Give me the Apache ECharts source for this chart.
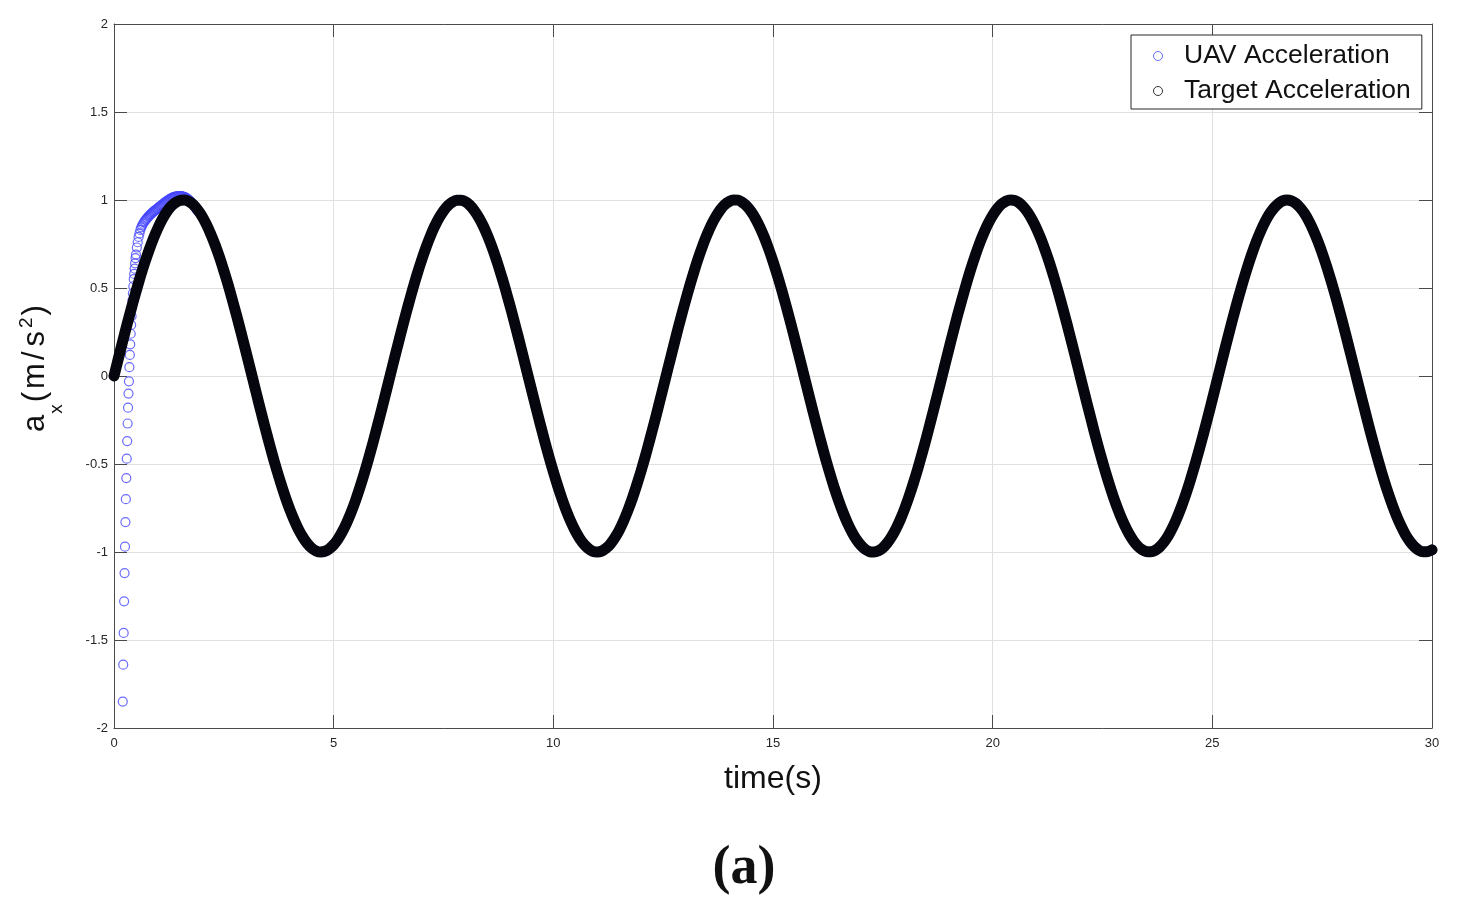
<!DOCTYPE html>
<html><head><meta charset="utf-8">
<script src="https://cdn.jsdelivr.net/npm/echarts@6/dist/echarts.min.js"></script>
<style>html,body{margin:0;padding:0;background:#fff}#chart{width:1457px;height:919px}</style>
</head><body><div id="chart"></div>
<script>
// ---- data ----
const seriesNames = ['UAV Acceleration', 'Target Acceleration'];
const xTickStep = 5;
const yTickStep = 0.5;

// target acceleration, sampled every 0.1 s from t = 0 to 30 s
const targetStart = 0;
const targetStep = 0.1;
const targetAccel = [
 0.000,0.100,0.199,0.296,0.389,0.479,0.565,0.644,0.717,0.783,
 0.841,0.891,0.932,0.964,0.985,0.997,1.000,0.992,0.974,0.946,
 0.909,0.863,0.808,0.746,0.676,0.598,0.516,0.427,0.335,0.239,
 0.141,0.042,-0.058,-0.158,-0.256,-0.351,-0.443,-0.530,-0.612,-0.688,
 -0.757,-0.818,-0.872,-0.916,-0.952,-0.978,-0.994,-1.000,-0.996,-0.982,
 -0.959,-0.926,-0.883,-0.832,-0.773,-0.706,-0.631,-0.551,-0.465,-0.374,
 -0.279,-0.182,-0.083,
 0.017,0.117,0.215,0.312,0.405,0.494,0.579,0.657,0.729,0.794,
 0.851,0.899,0.938,0.968,0.988,0.999,0.999,0.990,0.970,0.941,
 0.902,0.855,0.799,0.735,0.663,0.585,0.501,0.412,0.319,0.223,
 0.125,0.025,-0.075,-0.174,-0.272,-0.367,-0.458,-0.544,-0.625,-0.700,
 -0.768,-0.828,-0.880,-0.923,-0.957,-0.981,-0.996,-1.000,-0.995,-0.979,
 -0.954,-0.919,-0.876,-0.823,-0.762,-0.694,-0.618,-0.537,-0.450,-0.358,
 -0.263,-0.166,-0.066,
 0.034,0.133,0.232,0.328,0.420,0.509,0.592,0.670,0.741,0.804,
 0.860,0.906,0.944,0.973,0.991,1.000,0.999,0.987,0.966,0.935,
 0.895,0.846,0.789,0.723,0.651,0.572,0.487,0.397,0.303,0.207,
 0.108,0.008,-0.092,-0.191,-0.288,-0.382,-0.473,-0.558,-0.639,-0.712,
 -0.779,-0.838,-0.888,-0.930,-0.962,-0.985,-0.998,-1.000,-0.993,-0.976,
 -0.949,-0.913,-0.868,-0.814,-0.752,-0.682,-0.605,-0.523,-0.435,-0.343,
 -0.247,-0.149,-0.050,
 0.050,0.150,0.248,0.344,0.435,0.523,0.606,0.682,0.752,0.814,
 0.868,0.913,0.949,0.976,0.993,1.000,0.997,0.984,0.961,0.929,
 0.887,0.837,0.778,0.711,0.638,0.557,0.472,0.381,0.287,0.190,
 0.091,-0.009,-0.109,-0.207,-0.304,-0.398,-0.487,-0.572,-0.651,-0.724,
 -0.789,-0.846,-0.895,-0.935,-0.966,-0.987,-0.998,-0.999,-0.991,-0.972,
 -0.943,-0.906,-0.859,-0.803,-0.740,-0.669,-0.591,-0.508,-0.419,-0.327,
 -0.231,-0.133,-0.033,
 0.067,0.167,0.264,0.359,0.450,0.537,0.619,0.694,0.763,0.823,
 0.876,0.920,0.954,0.979,0.995,1.000,0.995,0.981,0.956,0.923,
 0.879,0.827,0.767,0.699,0.624,0.543,0.457,0.366,0.271,0.173,
 0.074,-0.026,-0.125,-0.224,-0.320,-0.413,-0.502,-0.586,-0.664,-0.735,
 -0.799,-0.855,-0.903,-0.941,-0.970,-0.990,-0.999,-0.998,-0.988
];

// UAV acceleration transient (afterwards it coincides with the target)
const uavTime = [
 0.20,0.21,0.22,0.23,0.24,0.25,0.26,0.27,0.28,0.29,
 0.30,0.31,0.32,0.33,0.34,0.35,0.36,0.37,0.38,0.39,
 0.40,0.41,0.42,0.43,0.44,0.45,0.46,0.47,0.48,0.49,
 0.50,0.52,0.54,0.56,0.58,0.60,0.62,0.64,0.66,0.68,
 0.70,0.72,0.74,0.76,0.78,0.80,0.82,0.84,0.86,0.88,
 0.90,0.92,0.94,0.96,0.98,1.00,1.02,1.04,1.06,1.08,
 1.10,1.12,1.14,1.16,1.18,1.20,1.22,1.24,1.26,1.28,
 1.30,1.32,1.34,1.36,1.38,1.40,1.42,1.44,1.46,1.48,
 1.50,1.52,1.54,1.56,1.58,1.60,1.62,1.64,1.66,1.68,
 1.70,1.72,1.74,1.76,1.78,1.80,1.82,1.84,1.86,1.88,
 1.90,1.92,1.94,1.96,1.98
];
const uavAccel = [
 -1.85,-1.64,-1.46,-1.28,-1.12,-0.97,-0.83,-0.70,-0.58,-0.47,
 -0.37,-0.27,-0.18,-0.10,-0.03,0.05,0.12,0.18,0.24,0.29,
 0.34,0.39,0.43,0.47,0.51,0.55,0.58,0.61,0.64,0.67,
 0.69,0.73,0.76,0.79,0.81,0.83,0.845,0.855,0.865,0.873,
 0.880,0.887,0.893,0.899,0.905,0.910,0.915,0.920,0.925,0.930,
 0.934,0.938,0.942,0.946,0.950,0.954,0.958,0.962,0.966,0.970,
 0.974,0.978,0.982,0.986,0.990,0.994,0.997,1.000,1.003,1.006,
 1.009,1.012,1.014,1.016,1.018,1.019,1.020,1.021,1.022,1.022,
 1.022,1.022,1.021,1.020,1.019,1.017,1.015,1.012,1.009,1.005,
 1.001,0.997,0.992,0.987,0.981,0.975,0.968,0.961,0.954,0.947,
 0.940,0.936,0.932,0.926,0.919
];

// ---- build series data ----
const targetData = targetAccel.map((v, i) => [+(targetStart + i * targetStep).toFixed(2), v]);
const uavData = uavTime.map((t, i) => [t, uavAccel[i]])
  .concat(targetData.filter(d => d[0] >= 2.0));

const FONT = '"Liberation Sans", Arial, Helvetica, sans-serif';
const AXIS_COLOR = '#4a4a4a';
const GRID_COLOR = '#e0e0e0';
const UAV_COLOR = '#4646ff';
const TARGET_COLOR = '#06060f';

const chart = echarts.init(document.getElementById('chart'), null, {renderer: 'canvas'});

const baseAxis = {
  type: 'value',
  axisLine: {show: true, onZero: false, lineStyle: {color: AXIS_COLOR, width: 1}},
  axisTick: {show: true, inside: true, length: 13, lineStyle: {color: AXIS_COLOR, width: 1}},
  minorTick: {show: false}
};

const nameMain = {fontFamily: FONT, fontSize: 31, color: '#111', lineHeight: 61, verticalAlign: 'middle'};

chart.setOption({
  animation: false,
  backgroundColor: '#ffffff',
  grid: {left: 114, right: 25, top: 24, bottom: 191, containLabel: false, outerBoundsMode: 'none'},
  legend: {
    left: 1131, top: 35, orient: 'vertical',
    padding: [7, 11, 4, 22],
    itemGap: 7, itemWidth: 42, itemHeight: 9,
    borderColor: '#262626', borderWidth: 1, borderRadius: 0,
    backgroundColor: '#ffffff',
    textStyle: {fontFamily: FONT, fontSize: 26.5, color: '#111', lineHeight: 28},
    selectedMode: false,
    data: [
      {name: seriesNames[0], icon: 'circle', itemStyle: {color: 'rgba(255,255,255,0)', borderColor: UAV_COLOR, borderWidth: 1}},
      {name: seriesNames[1], icon: 'circle', itemStyle: {color: 'rgba(255,255,255,0)', borderColor: '#333', borderWidth: 1}}
    ]
  },
  xAxis: [
    Object.assign({}, baseAxis, {
      position: 'bottom', min: 0, max: 30, interval: xTickStep,
      axisLabel: {show: true, margin: 9, fontFamily: FONT, fontSize: 13, color: '#262626'},
      splitLine: {show: true, lineStyle: {color: GRID_COLOR, width: 1}},
      name: 'time(s)', nameLocation: 'middle', nameGap: 35,
      nameTextStyle: {fontFamily: FONT, fontSize: 32, color: '#111'}
    }),
    Object.assign({}, baseAxis, {
      position: 'top', min: 0, max: 30, interval: xTickStep,
      axisLabel: {show: false}, splitLine: {show: false}
    })
  ],
  yAxis: [
    Object.assign({}, baseAxis, {
      position: 'left', min: -2, max: 2, interval: yTickStep,
      axisLabel: {show: true, margin: 6, fontFamily: FONT, fontSize: 13, color: '#262626'},
      splitLine: {show: true, lineStyle: {color: GRID_COLOR, width: 1}},
      name: '{a0|a}{sub|x}{p|(}{m|m}{sl|/}{s|s}{sup|2}{m|)}',
      nameLocation: 'middle', nameGap: 48, nameRotate: 90,
      nameTextStyle: {
        fontFamily: FONT, color: '#111',
        rich: {
          m: nameMain,
          a0: Object.assign({}, nameMain, {padding: [0, 0, 0, 15]}),
          p: Object.assign({}, nameMain, {padding: [0, 3, 0, 1]}),
          sl: Object.assign({}, nameMain, {padding: [0, 5, 0, 3]}),
          s: Object.assign({}, nameMain, {padding: [0, 2, 0, 0]}),
          sub: {fontFamily: FONT, fontSize: 19, color: '#111', verticalAlign: 'bottom', padding: [0, 1, 0, 1]},
          sup: {fontFamily: FONT, fontSize: 19, color: '#111', verticalAlign: 'top', padding: [12, 2, 0, 1]}
        }
      }
    }),
    Object.assign({}, baseAxis, {
      position: 'right', min: -2, max: 2, interval: yTickStep,
      axisLabel: {show: false}, splitLine: {show: false}
    })
  ],
  series: [
    {
      name: seriesNames[0], type: 'scatter', xAxisIndex: 0, yAxisIndex: 0,
      data: uavData, symbol: 'circle', symbolSize: 9, z: 2, clip: false,
      itemStyle: {color: 'rgba(255,255,255,0)', borderColor: UAV_COLOR, borderWidth: 1.2},
      emphasis: {disabled: true}
    },
    {
      name: seriesNames[1], type: 'line', xAxisIndex: 0, yAxisIndex: 0,
      data: targetData, showSymbol: false, smooth: 0.25, z: 3, clip: false,
      lineStyle: {color: TARGET_COLOR, width: 11, cap: 'round', join: 'round'},
      itemStyle: {color: TARGET_COLOR},
      emphasis: {disabled: true}
    }
  ],
  graphic: [{
    type: 'text', x: 744, y: 869, z: 10,
    style: {text: '(a)', font: 'bold 54px "Liberation Serif", "Times New Roman", serif',
            fill: '#111', align: 'center', verticalAlign: 'middle'}
  }]
});
</script>
</body></html>
